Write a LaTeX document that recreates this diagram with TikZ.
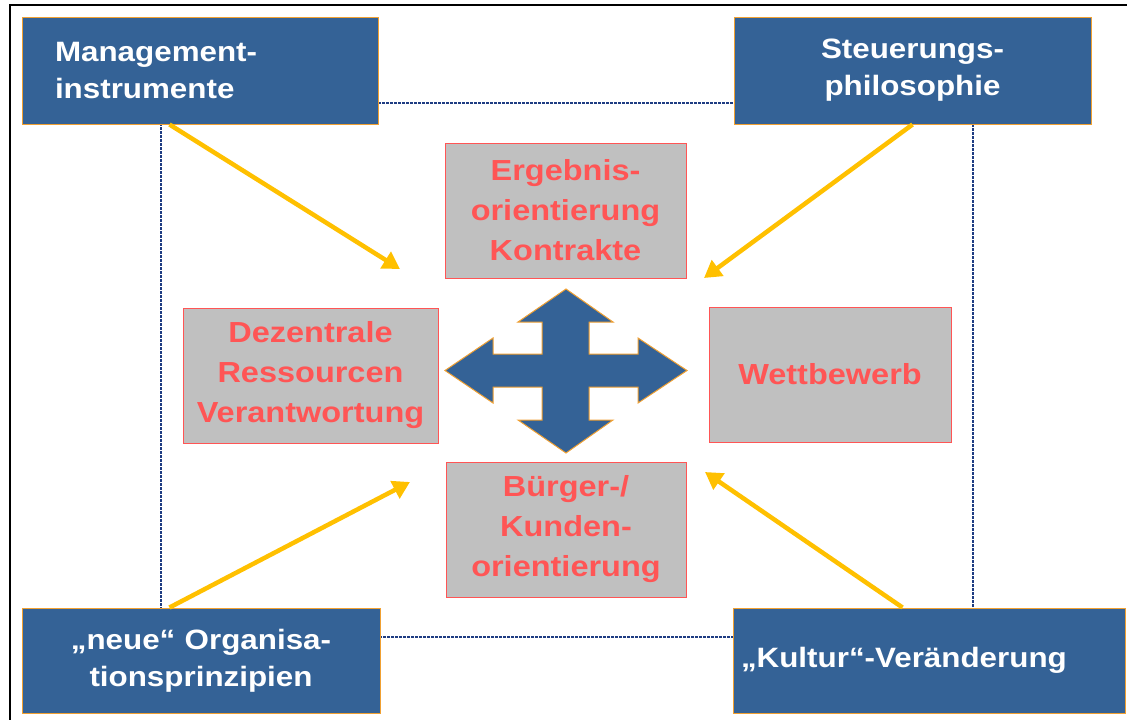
\documentclass[tikz,border=0pt]{standalone}
\usepackage{fontspec}
\newfontfamily\boxfont{Liberation Sans}[FakeStretch=1.12]
\usepackage{tikz}
\usetikzlibrary{arrows.meta,positioning,calc}
\usepackage{xcolor}
\definecolor{boxblue}{RGB}{52,98,150}
\definecolor{boxorange}{RGB}{240,160,50}
\definecolor{boxgray}{RGB}{192,192,192}
\definecolor{boxred}{RGB}{255,85,85}
\definecolor{arrowyellow}{RGB}{255,192,0}
\definecolor{framedark}{RGB}{30,60,130}

\begin{document}
\begin{tikzpicture}[x=1pt, y=-1pt,
    bluebox/.style={draw=boxorange, fill=boxblue, line width=1pt, text=white,
        font=\boxfont\bfseries\fontsize{28}{37}\selectfont, inner sep=0pt},
    graybox/.style={draw=boxred, fill=boxgray, line width=1pt, text=boxred,
        font=\boxfont\bfseries\fontsize{29}{40}\selectfont, inner sep=0pt,
        minimum height=135pt, align=center},
    yarrow/.style={arrowyellow, line width=4.5pt, -{Triangle[length=17pt,width=19pt]}}]
    \useasboundingbox (0,0) rectangle (1127,720);

    % Frames
    \draw[line width=2.5pt] (10,730) -- (10,5) -- (1140,5);
    \draw[framedark, dash pattern=on 3pt off 1pt, line width=1.3pt] (161,103) rectangle (973,637);

    % Outer boxes
    \node[bluebox, minimum width=356pt, minimum height=107pt, text width=290pt, inner xsep=33pt, align=left]
        (tl) at (200,70.5) {Management-\\instrumente};
    \node[bluebox, minimum width=357pt, minimum height=107pt, text width=357pt, align=center]
        (tr) at (912.5,70.5) {Steuerungs-\\philosophie};
    \node[bluebox, minimum width=358pt, minimum height=105pt, text width=358pt, align=center]
        (bl) at (201,660.5) {„neue“ Organisa-\\tionsprinzipien};
    \node[bluebox, minimum width=392pt, minimum height=105pt, text width=376pt, inner xsep=8pt, align=left]
        (br) at (929,660.5) {„Kultur“-Veränderung};

    % Inner boxes
    \node[graybox, minimum width=241pt] (ergebnis) at (565.5,210.5) {Ergebnis-\\orientierung\\Kontrakte};
    \node[graybox, minimum width=255pt] (dezentral) at (310.5,375.5) {Dezentrale\\Ressourcen\\Verantwortung};
    \node[graybox, minimum width=242pt] (wettbewerb) at (830,374.5) {Wettbewerb};
    \node[graybox, minimum width=240pt] (kunden) at (566,529.5) {Bürger-/\\Kunden-\\orientierung};

    % Cross arrow
    \filldraw[fill=boxblue, draw=boxorange, line width=1pt, line join=miter]
        (566,289) -- (613,322) -- (589,322) -- (589,354) -- (638,354) -- (638,338)
        -- (687,370.5) -- (638,403) -- (638,387) -- (589,387) -- (589,420) -- (613,420)
        -- (566,453) -- (518,420) -- (542,420) -- (542,387) -- (493,387) -- (493,403)
        -- (445,370.5) -- (493,338) -- (493,354) -- (542,354) -- (542,322) -- (518,322) -- cycle;

    % Yellow arrows
    \coordinate (tlend) at (400,269);
    \coordinate (trend) at (704,278);
    \coordinate (blend) at (410,482);
    \coordinate (brend) at (705,472);
    \draw[yarrow] ([xshift=148pt]tl.south west) -- (tlend);
    \draw[yarrow] ([xshift=179pt]tr.south west) -- (trend);
    \draw[yarrow] ([xshift=148pt]bl.north west) -- (blend);
    \draw[yarrow] ([xshift=170pt]br.north west) -- (brend);
\end{tikzpicture}
\end{document}
